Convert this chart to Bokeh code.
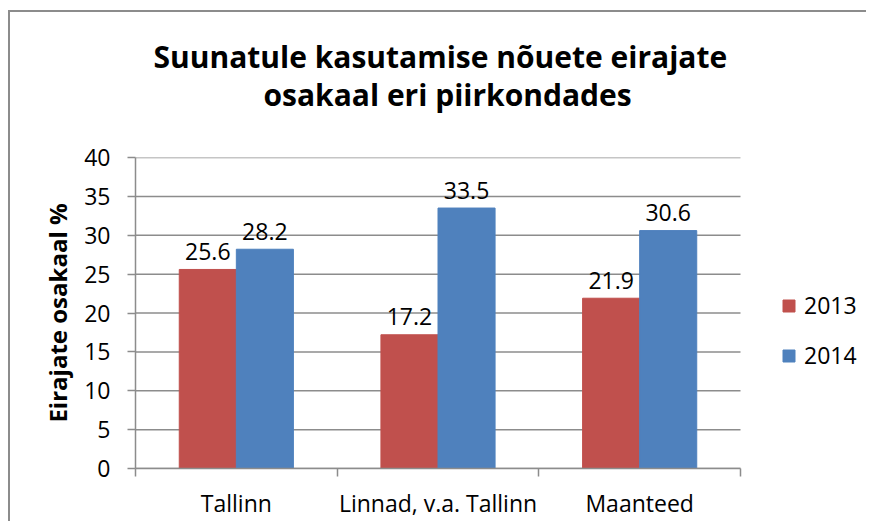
from bokeh.plotting import figure
from bokeh.models import FixedTicker, Range1d, Legend, LegendItem, ColumnDataSource, Title
from bokeh.core.properties import value
from bokeh.embed import file_html
from bokeh.resources import INLINE

# ---- data ----
categories = ["Tallinn", "Linnad, v.a. Tallinn", "Maanteed"]
series_names = ["2013", "2014"]
values_2013 = [25.6, 17.2, 21.9]
values_2014 = [28.2, 33.5, 30.6]
y_ticks = [0, 5, 10, 15, 20, 25, 30, 35, 40]
title_line1 = "Suunatule kasutamise nõuete eirajate"
title_line2 = "osakaal eri piirkondades"
y_label = "Eirajate osakaal %"

RED = "#C0504D"
BLUE = "#4F81BD"
GRID = "#8C8C8C"
FONT = "Open Sans"
W, H = 866, 521
FL, FR, FT, FB = 135, 740, 157, 472  # axis area edges in canvas px
n = len(categories)
x_end = n * (W - FL) / (FR - FL)  # frame extends right to hold the legend

p = figure(width=W, height=H, x_range=Range1d(0, x_end), y_range=Range1d(0, 40),
           output_backend="svg", toolbar_location=None,
           min_border_left=FL, min_border_right=0, min_border_top=FT, min_border_bottom=H - FB)
p.outline_line_color = None
p.background_fill_color = "white"
p.border_fill_color = None
# outer chart border (top and left edges), drawn behind the transparent canvas border area
p.styles = {
    "background": ("linear-gradient(#8C8C8C,#8C8C8C) 8px 10px / 2px 100% no-repeat, "
                   "linear-gradient(#8C8C8C,#8C8C8C) 8px 10px / 100% 2px no-repeat, white"),
}

bar_w = 0.283
centers = [i + 0.5 for i in range(n)]
src13 = ColumnDataSource(dict(x=[c - bar_w / 2 for c in centers], top=values_2013,
                              lab=[f"{v:.1f}" for v in values_2013]))
src14 = ColumnDataSource(dict(x=[c + bar_w / 2 for c in centers], top=values_2014,
                              lab=[f"{v:.1f}" for v in values_2014]))

# horizontal gridlines across the category area only
grid_src = ColumnDataSource(dict(y=y_ticks, x0=[0] * len(y_ticks), x1=[n] * len(y_ticks)))
p.segment(x0="x0", x1="x1", y0="y", y1="y", source=grid_src, line_color=GRID, line_width=1.5)

r13 = p.vbar(x="x", top="top", bottom=0, width=bar_w, source=src13, fill_color=RED, line_color=RED)
r14 = p.vbar(x="x", top="top", bottom=0, width=bar_w, source=src14, fill_color=BLUE, line_color=BLUE)

for s in (src13, src14):
    p.text(x="x", y="top", text="lab", source=s, text_align="center", text_baseline="alphabetic",
           y_offset=-18, text_font=value(FONT), text_font_size="23px", text_color="black")

# title: two lines, each centred over the category area
# (the figure's own title is stacked outermost, so it carries line 1)
p.title.text = title_line1
p.title.align = "left"
p.title.offset = 18
p.title.text_font = FONT
p.title.text_font_style = "bold"
p.title.text_font_size = "30px"
p.title.text_color = "black"
p.title.standoff = -96
t2 = Title(text=title_line2, align="left", offset=128, text_font=FONT, text_font_style="bold",
           text_font_size="30px", text_color="black", standoff=86)
p.add_layout(t2, "above")

# x axis
xa = p.xaxis[0]
xa.bounds = (0, n)
xa.ticker = FixedTicker(ticks=centers, minor_ticks=list(range(n + 1)))
xa.major_label_overrides = {c: nm for c, nm in zip(centers, categories)}
xa.major_tick_line_color = None
xa.minor_tick_in = 0
xa.minor_tick_out = 8
xa.minor_tick_line_color = GRID
xa.minor_tick_line_width = 1.5
xa.axis_line_color = GRID
xa.axis_line_width = 1.5
xa.major_label_text_font = FONT
xa.major_label_text_font_size = "23px"
xa.major_label_text_color = "black"
xa.major_label_standoff = 10
p.xgrid.visible = False
p.ygrid.visible = False

# y axis
ya = p.yaxis[0]
ya.ticker = FixedTicker(ticks=y_ticks)
ya.major_tick_in = 0
ya.major_tick_out = 8
ya.major_tick_line_color = GRID
ya.major_tick_line_width = 1.5
ya.minor_tick_line_color = None
ya.axis_line_color = GRID
ya.axis_line_width = 1.5
ya.major_label_text_font = FONT
ya.major_label_text_font_size = "23px"
ya.major_label_text_color = "black"
ya.major_label_standoff = 17
ya.axis_label = y_label
ya.axis_label_text_font = FONT
ya.axis_label_text_font_style = "bold"
ya.axis_label_text_font_size = "24px"
ya.axis_label_text_color = "black"
ya.axis_label_standoff = 7

legend = Legend(items=[LegendItem(label=series_names[0], renderers=[r13]),
                       LegendItem(label=series_names[1], renderers=[r14])],
                location=(646, 97), orientation="vertical",
                glyph_width=15, glyph_height=15, label_standoff=8, spacing=18,
                padding=0, margin=0, border_line_color=None, background_fill_alpha=0,
                label_text_font=FONT, label_text_font_size="23px", label_text_color="black")
p.add_layout(legend, "center")

open("out.html", "w").write(file_html(p, INLINE))
